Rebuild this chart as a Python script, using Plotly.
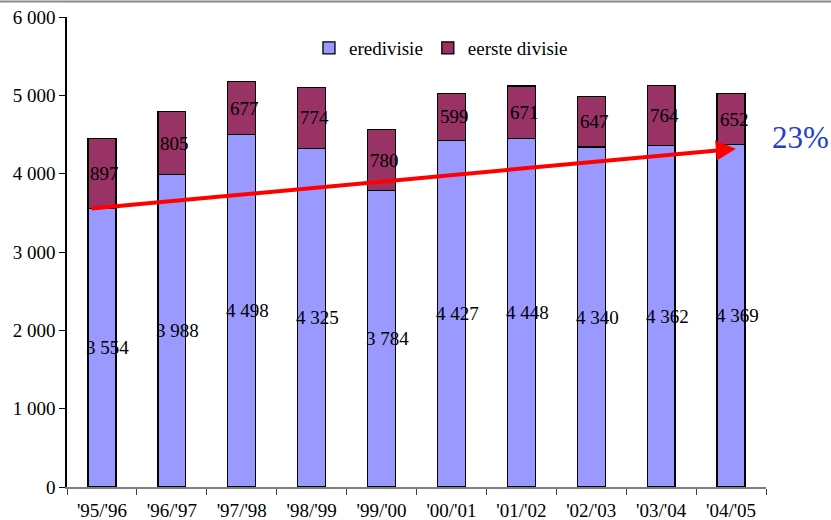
import plotly.graph_objects as go

categories = ["'95/'96", "'96/'97", "'97/'98", "'98/'99", "'99/'00",
              "'00/'01", "'01/'02", "'02/'03", "'03/'04", "'04/'05"]
eredivisie = [3554, 3988, 4498, 4325, 3784, 4427, 4448, 4340, 4362, 4369]
eerste_divisie = [897, 805, 677, 774, 780, 599, 671, 647, 764, 652]
growth_label = "23%"

FONT = "Liberation Serif"

def fmt(v):
    return f"{v:,}".replace(",", " ")

fig = go.Figure()
fig.add_trace(go.Bar(x=categories, y=eredivisie, name="eredivisie",
                     marker=dict(color="#9999FF", line=dict(color="black", width=1.3))))
fig.add_trace(go.Bar(x=categories, y=eerste_divisie, name="eerste divisie",
                     marker=dict(color="#993366", line=dict(color="black", width=1.3))))

annotations = []
for i, c in enumerate(categories):
    annotations.append(dict(x=c, y=eredivisie[i] / 2, text=fmt(eredivisie[i]),
                            showarrow=False, xshift=6,
                            font=dict(family=FONT, size=19, color="black")))
    annotations.append(dict(x=c, y=eredivisie[i] + eerste_divisie[i] / 2,
                            text=fmt(eerste_divisie[i]), showarrow=False, xshift=3,
                            font=dict(family=FONT, size=19, color="black")))

# growth arrow from first to last eredivisie value
annotations.append(dict(x=9.07, y=eredivisie[-1] - 50, ax=-0.17, ay=eredivisie[0],
                        xref="x", yref="y", axref="x", ayref="y", text="",
                        showarrow=True, arrowhead=2, arrowsize=1.0, arrowwidth=4,
                        arrowcolor="#FF0000"))
annotations.append(dict(x=1.049, y=0.743, xref="paper", yref="paper", text=growth_label,
                        xanchor="center", yanchor="middle",
                        showarrow=False, font=dict(family=FONT, size=31, color="#2040CC")))

fig.update_layout(
    width=831, height=520,
    barmode="stack", bargap=0.6,
    separators=", ",
    paper_bgcolor="white", plot_bgcolor="white",
    margin=dict(l=67, r=65, t=17, b=33, autoexpand=False),
    font=dict(family=FONT, size=19, color="black"),
    legend=dict(orientation="h", x=0.535, y=0.934, xanchor="center", yanchor="middle",
                font=dict(family=FONT, size=19), bgcolor="rgba(0,0,0,0)",
                traceorder="normal"),
    annotations=annotations,
    shapes=[dict(type="line", xref="paper", yref="paper", x0=-0.1, x1=1.1,
                 y0=1.033, y1=1.033, line=dict(color="#888888", width=2))],
    xaxis=dict(type="category", range=[-0.5, 9.5], showline=True, linecolor="#808080",
               linewidth=2, ticks="outside", tickson="boundaries", ticklen=6,
               tickcolor="#404040", tickfont=dict(family=FONT, size=19), showgrid=False,
               automargin=False, ticklabeloverflow="allow", ticklabelstandoff=5),
    yaxis=dict(range=[0, 6000], dtick=1000, tickformat=",d", showline=True,
               linecolor="black", linewidth=1.5, ticks="outside", ticklen=6,
               tickcolor="black", tickfont=dict(family=FONT, size=19), showgrid=False,
               zeroline=False, automargin=False, ticklabeloverflow="allow"),
)

fig.write_html("out.html", config={"displayModeBar": False},
               post_script="document.body.style.margin='0';document.body.style.overflow='hidden';")
